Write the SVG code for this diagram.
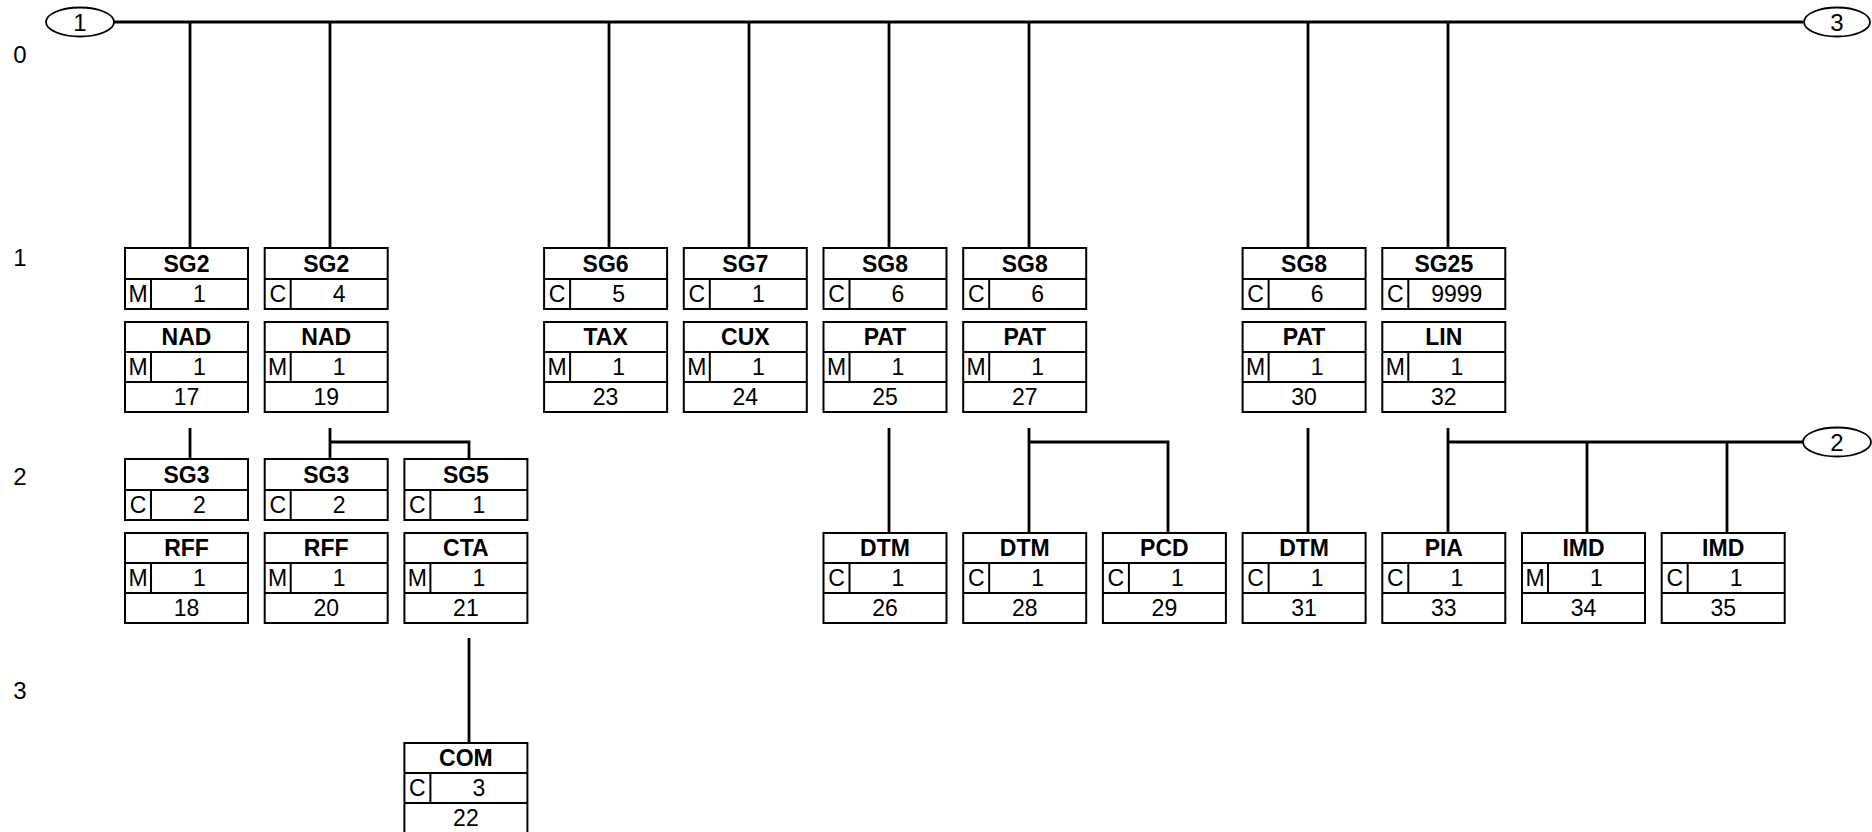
<svg xmlns="http://www.w3.org/2000/svg" width="1872" height="832" viewBox="0 0 1872 832">
<style>
text{font-family:"Liberation Sans",Arial,sans-serif;font-size:23px;fill:#000}
.b{font-weight:bold}
.m{text-anchor:middle}
.big{font-size:24px}
.box{fill:#fff;stroke:#000;stroke-width:2}
.ln{stroke:#000;stroke-width:2;fill:none}
.con{stroke:#000;stroke-width:2.8;fill:none}
.oval{fill:#fff;stroke:#000;stroke-width:1.8}
</style>
<defs>
<g id="sg">
<rect class="box" x="0" y="0" width="123" height="61"/>
<line class="ln" x1="0" y1="31" x2="123" y2="31"/>
<line class="ln" x1="26" y1="31" x2="26" y2="61"/>
</g>
<g id="seg">
<rect class="box" x="0" y="0" width="123" height="90"/>
<line class="ln" x1="0" y1="30" x2="123" y2="30"/>
<line class="ln" x1="0" y1="60" x2="123" y2="60"/>
<line class="ln" x1="26" y1="30" x2="26" y2="60"/>
</g>
</defs>
<rect x="0" y="0" width="1872" height="832" fill="#fff"/>

<g id="levels">
<text x="20" y="63" class="m big">0</text>
<text x="20" y="266" class="m big">1</text>
<text x="20" y="485" class="m big">2</text>
<text x="20" y="699" class="m big">3</text>
</g>

<g id="connectors">
<line class="con" x1="114" y1="22" x2="1803" y2="22"/>
<line class="con" x1="190" y1="22" x2="190" y2="248"/>
<line class="con" x1="330" y1="22" x2="330" y2="248"/>
<line class="con" x1="609" y1="22" x2="609" y2="248"/>
<line class="con" x1="749" y1="22" x2="749" y2="248"/>
<line class="con" x1="889" y1="22" x2="889" y2="248"/>
<line class="con" x1="1029" y1="22" x2="1029" y2="248"/>
<line class="con" x1="1308" y1="22" x2="1308" y2="248"/>
<line class="con" x1="1448" y1="22" x2="1448" y2="248"/>

<line class="con" x1="190" y1="428" x2="190" y2="459"/>
<polyline class="con" points="330,428 330,459"/>
<polyline class="con" points="330,442 469,442 469,459"/>
<line class="con" x1="469" y1="638" x2="469" y2="743"/>

<line class="con" x1="889" y1="428" x2="889" y2="533"/>
<line class="con" x1="1029" y1="428" x2="1029" y2="533"/>
<polyline class="con" points="1029,442 1168,442 1168,533"/>
<line class="con" x1="1308" y1="428" x2="1308" y2="533"/>
<line class="con" x1="1448" y1="428" x2="1448" y2="533"/>
<line class="con" x1="1448" y1="442" x2="1803" y2="442"/>
<line class="con" x1="1587" y1="442" x2="1587" y2="533"/>
<line class="con" x1="1727" y1="442" x2="1727" y2="533"/>
</g>

<g id="oval1"><ellipse class="oval" cx="80" cy="22" rx="34" ry="14.5"/><text x="80" y="30.5" class="m big">1</text></g>
<g id="oval3"><ellipse class="oval" cx="1837" cy="22" rx="33" ry="14.5"/><text x="1837" y="30.5" class="m big">3</text></g>
<g id="oval2"><ellipse class="oval" cx="1837" cy="442" rx="34" ry="14.5"/><text x="1837" y="450.5" class="m big">2</text></g>

<!-- Level 1 -->
<g id="sg2a" transform="translate(125,248)"><use href="#sg"/><text class="b m" x="61.5" y="24">SG2</text><text class="m" x="13" y="54">M</text><text class="m" x="74.5" y="54">1</text></g>
<g id="nad17" transform="translate(125,322)"><use href="#seg"/><text class="b m" x="61.5" y="23">NAD</text><text class="m" x="13" y="53">M</text><text class="m" x="74.5" y="53">1</text><text class="m" x="61.5" y="83">17</text></g>

<g id="sg2b" transform="translate(264.7,248)"><use href="#sg"/><text class="b m" x="61.5" y="24">SG2</text><text class="m" x="13" y="54">C</text><text class="m" x="74.5" y="54">4</text></g>
<g id="nad19" transform="translate(264.7,322)"><use href="#seg"/><text class="b m" x="61.5" y="23">NAD</text><text class="m" x="13" y="53">M</text><text class="m" x="74.5" y="53">1</text><text class="m" x="61.5" y="83">19</text></g>

<g id="sg6" transform="translate(544.1,248)"><use href="#sg"/><text class="b m" x="61.5" y="24">SG6</text><text class="m" x="13" y="54">C</text><text class="m" x="74.5" y="54">5</text></g>
<g id="tax23" transform="translate(544.1,322)"><use href="#seg"/><text class="b m" x="61.5" y="23">TAX</text><text class="m" x="13" y="53">M</text><text class="m" x="74.5" y="53">1</text><text class="m" x="61.5" y="83">23</text></g>

<g id="sg7" transform="translate(683.8,248)"><use href="#sg"/><text class="b m" x="61.5" y="24">SG7</text><text class="m" x="13" y="54">C</text><text class="m" x="74.5" y="54">1</text></g>
<g id="cux24" transform="translate(683.8,322)"><use href="#seg"/><text class="b m" x="61.5" y="23">CUX</text><text class="m" x="13" y="53">M</text><text class="m" x="74.5" y="53">1</text><text class="m" x="61.5" y="83">24</text></g>

<g id="sg8a" transform="translate(823.5,248)"><use href="#sg"/><text class="b m" x="61.5" y="24">SG8</text><text class="m" x="13" y="54">C</text><text class="m" x="74.5" y="54">6</text></g>
<g id="pat25" transform="translate(823.5,322)"><use href="#seg"/><text class="b m" x="61.5" y="23">PAT</text><text class="m" x="13" y="53">M</text><text class="m" x="74.5" y="53">1</text><text class="m" x="61.5" y="83">25</text></g>

<g id="sg8b" transform="translate(963.2,248)"><use href="#sg"/><text class="b m" x="61.5" y="24">SG8</text><text class="m" x="13" y="54">C</text><text class="m" x="74.5" y="54">6</text></g>
<g id="pat27" transform="translate(963.2,322)"><use href="#seg"/><text class="b m" x="61.5" y="23">PAT</text><text class="m" x="13" y="53">M</text><text class="m" x="74.5" y="53">1</text><text class="m" x="61.5" y="83">27</text></g>

<g id="sg8c" transform="translate(1242.6,248)"><use href="#sg"/><text class="b m" x="61.5" y="24">SG8</text><text class="m" x="13" y="54">C</text><text class="m" x="74.5" y="54">6</text></g>
<g id="pat30" transform="translate(1242.6,322)"><use href="#seg"/><text class="b m" x="61.5" y="23">PAT</text><text class="m" x="13" y="53">M</text><text class="m" x="74.5" y="53">1</text><text class="m" x="61.5" y="83">30</text></g>

<g id="sg25" transform="translate(1382.3,248)"><use href="#sg"/><text class="b m" x="61.5" y="24">SG25</text><text class="m" x="13" y="54">C</text><text class="m" x="74.5" y="54">9999</text></g>
<g id="lin32" transform="translate(1382.3,322)"><use href="#seg"/><text class="b m" x="61.5" y="23">LIN</text><text class="m" x="13" y="53">M</text><text class="m" x="74.5" y="53">1</text><text class="m" x="61.5" y="83">32</text></g>

<!-- Level 2 -->
<g id="sg3a" transform="translate(125,459)"><use href="#sg"/><text class="b m" x="61.5" y="24">SG3</text><text class="m" x="13" y="54">C</text><text class="m" x="74.5" y="54">2</text></g>
<g id="rff18" transform="translate(125,533)"><use href="#seg"/><text class="b m" x="61.5" y="23">RFF</text><text class="m" x="13" y="53">M</text><text class="m" x="74.5" y="53">1</text><text class="m" x="61.5" y="83">18</text></g>

<g id="sg3b" transform="translate(264.7,459)"><use href="#sg"/><text class="b m" x="61.5" y="24">SG3</text><text class="m" x="13" y="54">C</text><text class="m" x="74.5" y="54">2</text></g>
<g id="rff20" transform="translate(264.7,533)"><use href="#seg"/><text class="b m" x="61.5" y="23">RFF</text><text class="m" x="13" y="53">M</text><text class="m" x="74.5" y="53">1</text><text class="m" x="61.5" y="83">20</text></g>

<g id="sg5" transform="translate(404.4,459)"><use href="#sg"/><text class="b m" x="61.5" y="24">SG5</text><text class="m" x="13" y="54">C</text><text class="m" x="74.5" y="54">1</text></g>
<g id="cta21" transform="translate(404.4,533)"><use href="#seg"/><text class="b m" x="61.5" y="23">CTA</text><text class="m" x="13" y="53">M</text><text class="m" x="74.5" y="53">1</text><text class="m" x="61.5" y="83">21</text></g>

<g id="dtm26" transform="translate(823.5,533)"><use href="#seg"/><text class="b m" x="61.5" y="23">DTM</text><text class="m" x="13" y="53">C</text><text class="m" x="74.5" y="53">1</text><text class="m" x="61.5" y="83">26</text></g>
<g id="dtm28" transform="translate(963.2,533)"><use href="#seg"/><text class="b m" x="61.5" y="23">DTM</text><text class="m" x="13" y="53">C</text><text class="m" x="74.5" y="53">1</text><text class="m" x="61.5" y="83">28</text></g>
<g id="pcd29" transform="translate(1102.9,533)"><use href="#seg"/><text class="b m" x="61.5" y="23">PCD</text><text class="m" x="13" y="53">C</text><text class="m" x="74.5" y="53">1</text><text class="m" x="61.5" y="83">29</text></g>
<g id="dtm31" transform="translate(1242.6,533)"><use href="#seg"/><text class="b m" x="61.5" y="23">DTM</text><text class="m" x="13" y="53">C</text><text class="m" x="74.5" y="53">1</text><text class="m" x="61.5" y="83">31</text></g>
<g id="pia33" transform="translate(1382.3,533)"><use href="#seg"/><text class="b m" x="61.5" y="23">PIA</text><text class="m" x="13" y="53">C</text><text class="m" x="74.5" y="53">1</text><text class="m" x="61.5" y="83">33</text></g>
<g id="imd34" transform="translate(1522,533)"><use href="#seg"/><text class="b m" x="61.5" y="23">IMD</text><text class="m" x="13" y="53">M</text><text class="m" x="74.5" y="53">1</text><text class="m" x="61.5" y="83">34</text></g>
<g id="imd35" transform="translate(1661.7,533)"><use href="#seg"/><text class="b m" x="61.5" y="23">IMD</text><text class="m" x="13" y="53">C</text><text class="m" x="74.5" y="53">1</text><text class="m" x="61.5" y="83">35</text></g>

<!-- Level 3 -->
<g id="com22" transform="translate(404.4,743)"><use href="#seg"/><text class="b m" x="61.5" y="23">COM</text><text class="m" x="13" y="53">C</text><text class="m" x="74.5" y="53">3</text><text class="m" x="61.5" y="83">22</text></g>
</svg>
